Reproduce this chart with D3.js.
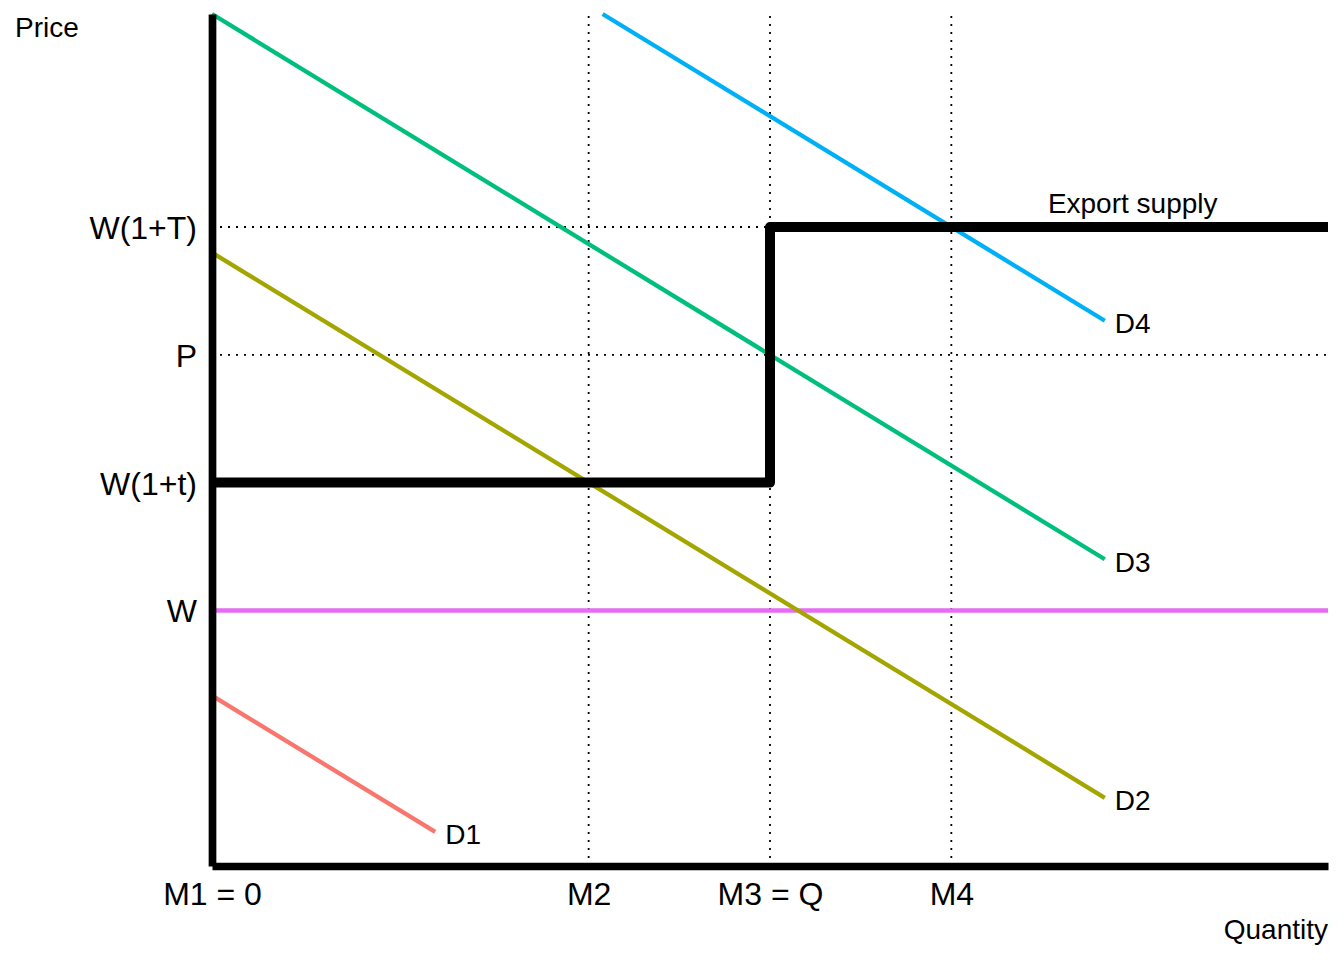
<!DOCTYPE html>
<html>
<head>
<meta charset="utf-8">
<script src="https://cdn.jsdelivr.net/npm/d3@7"></script>
<style>
  html, body { margin: 0; padding: 0; background: #ffffff; }
  svg { display: block; font-family: "Liberation Sans", Arial, sans-serif; }
</style>
</head>
<body>
<svg id="chart" width="1344" height="960"></svg>
<script>
// ---- data ----
const xTickValues = [0, 3.375, 5, 6.625];
const xTickLabels = ["M1 = 0", "M2", "M3 = Q", "M4"];
const yTickValues = [3, 4.5, 6, 7.5];
const yTickLabels = ["W", "W(1+t)", "P", "W(1+T)"];

const demandNames = ["D1", "D2", "D3", "D4"];
const demandColors = ["#F8766D", "#A3A500", "#00BF7D", "#00B0F6"];
const demandStartX = [0, 0, 0, 3.5];
const demandStartY = [2, 7.2, 10, 10];
const demandEndX = [2, 8, 8, 8];
const demandEndY = [0.4, 0.8, 3.6, 6.4];

const worldPriceLine = [[0, 3], [10, 3]];
const worldPriceColor = "#E76BF3";
const exportSupply = [[0, 4.5], [5, 4.5], [5, 7.5], [10, 7.5]];
const exportSupplyLabel = { text: "Export supply", x: 8.25, y: 7.5 };

const dottedH = [{ y: 7.5, x0: 0, x1: 5 }, { y: 6, x0: 0, x1: 10 }];
const dottedV = [3.375, 5, 6.625];

// ---- layout ----
const svg = d3.select("#chart");
const x = d3.scaleLinear().domain([0, 10]).range([212, 1328]);
const y = d3.scaleLinear().domain([0, 10]).range([866, 14]);
const line = d3.line().x(d => x(d[0])).y(d => y(d[1]));

// dotted reference lines
const gDot = svg.append("g");
dottedH.forEach(h => {
  gDot.append("path")
    .attr("d", line([[h.x0, h.y], [h.x1, h.y]]))
    .attr("stroke", "#000").attr("stroke-width", 1.8)
    .attr("stroke-dasharray", "2,6").attr("fill", "none");
});
dottedV.forEach(v => {
  gDot.append("path")
    .attr("d", line([[v, 0], [v, 10]]))
    .attr("stroke", "#000").attr("stroke-width", 1.8)
    .attr("stroke-dasharray", "2,6").attr("fill", "none");
});

// world price line
svg.append("path")
  .attr("d", line(worldPriceLine))
  .attr("stroke", worldPriceColor).attr("stroke-width", 4.5).attr("fill", "none");

// demand curves
const demands = demandNames.map((n, i) => ({
  name: n, color: demandColors[i],
  pts: [[demandStartX[i], demandStartY[i]], [demandEndX[i], demandEndY[i]]]
}));
const gD = svg.append("g");
gD.selectAll("path").data(demands).join("path")
  .attr("d", d => line(d.pts))
  .attr("stroke", d => d.color).attr("stroke-width", 4.3).attr("fill", "none");
gD.selectAll("text").data(demands).join("text")
  .attr("x", d => x(d.pts[1][0]) + 10)
  .attr("y", d => y(d.pts[1][1]) + 12.5)
  .attr("font-size", 28).attr("fill", "#000")
  .text(d => d.name);

// export supply
svg.append("path")
  .attr("d", line(exportSupply))
  .attr("stroke", "#000").attr("stroke-width", 10)
  .attr("stroke-linejoin", "round").attr("fill", "none");
svg.append("text")
  .attr("x", x(exportSupplyLabel.x)).attr("y", y(exportSupplyLabel.y) - 14)
  .attr("text-anchor", "middle").attr("font-size", 28).attr("fill", "#000")
  .text(exportSupplyLabel.text);

// axes
const xAxis = d3.axisBottom(x).tickValues(xTickValues)
  .tickFormat((d, i) => xTickLabels[i]).tickSize(0).tickSizeOuter(0);
const yAxis = d3.axisLeft(y).tickValues(yTickValues)
  .tickFormat((d, i) => yTickLabels[i]).tickSize(0).tickSizeOuter(0);

const gx = svg.append("g").attr("transform", "translate(0,866)").call(xAxis);
const gy = svg.append("g").attr("transform", "translate(212,0)").call(yAxis);
[gx, gy].forEach(g => {
  g.select(".domain").attr("stroke", "#000").attr("stroke-width", 7.7)
    .attr("stroke-linecap", "butt");
  g.selectAll("text").attr("font-size", 32).attr("fill", "#000")
    .attr("font-family", "'Liberation Sans', Arial, sans-serif");
});
gx.selectAll(".tick text").attr("y", 39).attr("dy", null);
gy.selectAll(".tick text").attr("x", -15).attr("dy", "11.5");

// axis titles
svg.append("text").attr("x", 15).attr("y", 37)
  .attr("font-size", 28).attr("fill", "#000").text("Price");
svg.append("text").attr("x", 1328).attr("y", 939)
  .attr("text-anchor", "end").attr("font-size", 28).attr("fill", "#000").text("Quantity");
</script>
</body>
</html>
